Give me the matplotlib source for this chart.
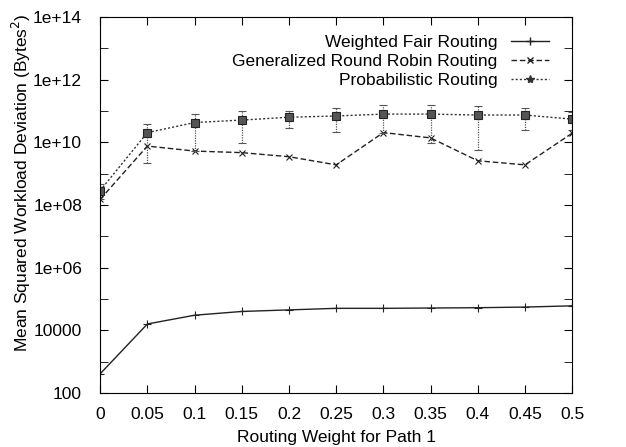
import numpy as np
import matplotlib
matplotlib.use('Agg')
import matplotlib.pyplot as plt
from matplotlib.lines import Line2D

# datos (escala log10)
weights = [0, 0.05, 0.1, 0.15, 0.2, 0.25, 0.3, 0.35, 0.4, 0.45, 0.5]
wfr_log = [2.61, 4.20, 4.48, 4.60, 4.65, 4.70, 4.70, 4.71, 4.72, 4.74, 4.78]
grr_log = [8.18, 9.88, 9.72, 9.67, 9.54, 9.28, 10.31, 10.14, 9.41, 9.28, 10.29]
prob_log = [8.46, 10.31, 10.63, 10.71, 10.80, 10.84, 10.90, 10.90, 10.87, 10.87, 10.74]
prob_hi_log = [8.67, 10.58, 10.90, 10.99, 11.01, 11.09, 11.19, 11.19, 11.16, 11.09, 10.98]
prob_lo_log = [8.20, 9.33, 9.72, 9.99, 10.45, 10.34, 10.31, 9.97, 9.77, 10.39, 10.39]

labels = ['Weighted Fair Routing', 'Generalized Round Robin Routing', 'Probabilistic Routing']
yticks = [1e2, 1e4, 1e6, 1e8, 1e10, 1e12, 1e14]
yticklabels = ['100', '10000', '1e+06', '1e+08', '1e+10', '1e+12', '1e+14']

plt.rcParams['font.family'] = ['Liberation Sans', 'DejaVu Sans']

wfr = 10 ** np.array(wfr_log)
grr = 10 ** np.array(grr_log)
prob = 10 ** np.array(prob_log)
err = [prob - 10 ** np.array(prob_lo_log), 10 ** np.array(prob_hi_log) - prob]

fig = plt.figure(figsize=(6.26, 4.47), dpi=100)
ax = fig.add_axes([0.16, 0.121, 0.754, 0.841])

ax.plot(weights, wfr, color='#222222', lw=1.0, ls='-', marker='+', ms=6, mew=0.8)
ax.plot(weights, grr, color='#222222', lw=1.0, ls=(0, (4, 2)), marker='x', ms=5, mew=0.8)
ax.errorbar(weights, prob, yerr=err, color='#333333', lw=1.0, ls=(0, (1.5, 1.5)),
            marker='s', ms=6, mfc='#555555', mec='#222222', mew=0.8,
            ecolor='#555555', elinewidth=0.9, capsize=3, capthick=0.9)
for bar in ax.containers[0].lines[2]:
    bar.set_linestyle((0, (1, 1)))

ax.set_yscale('log')
ax.set_xlim(0, 0.5)
ax.set_ylim(1e2, 1e14)
ax.set_xticks(weights)
ax.set_xticklabels(['0', '0.05', '0.1', '0.15', '0.2', '0.25', '0.3', '0.35', '0.4', '0.45', '0.5'])
ax.set_yticks(yticks)
ax.set_yticklabels(yticklabels)
ax.set_yticks([1e3, 1e5, 1e7, 1e9, 1e11, 1e13], minor=True)
ax.yaxis.set_minor_formatter(plt.NullFormatter())
ax.tick_params(which='both', direction='in', top=True, right=True, labelsize=12.5, length=6)
ax.tick_params(axis='x', pad=10)
ax.tick_params(axis='y', pad=13)

ax.set_xlabel('Routing Weight for Path 1', fontsize=12.5, labelpad=6)
ax.set_ylabel('Mean Squared Workload Deviation (Bytes$^2$)', fontsize=12.5)
ax.yaxis.set_label_coords(-0.143, 0.56)

handles = [
    Line2D([], [], color='#222222', lw=1.0, ls='-', marker='+', ms=6),
    Line2D([], [], color='#222222', lw=1.0, ls=(0, (4, 2)), marker='x', ms=5),
    Line2D([], [], color='#333333', lw=1.0, ls=(0, (1.5, 1.5)), marker='*', ms=6),
]
ax.legend(handles, labels, loc='upper right', frameon=False, markerfirst=False,
          fontsize=12.5, handlelength=2.2, handletextpad=0.8, labelspacing=0.22,
          borderaxespad=0.5, bbox_to_anchor=(0.985, 0.995))

plt.savefig('out.png', dpi=100)
